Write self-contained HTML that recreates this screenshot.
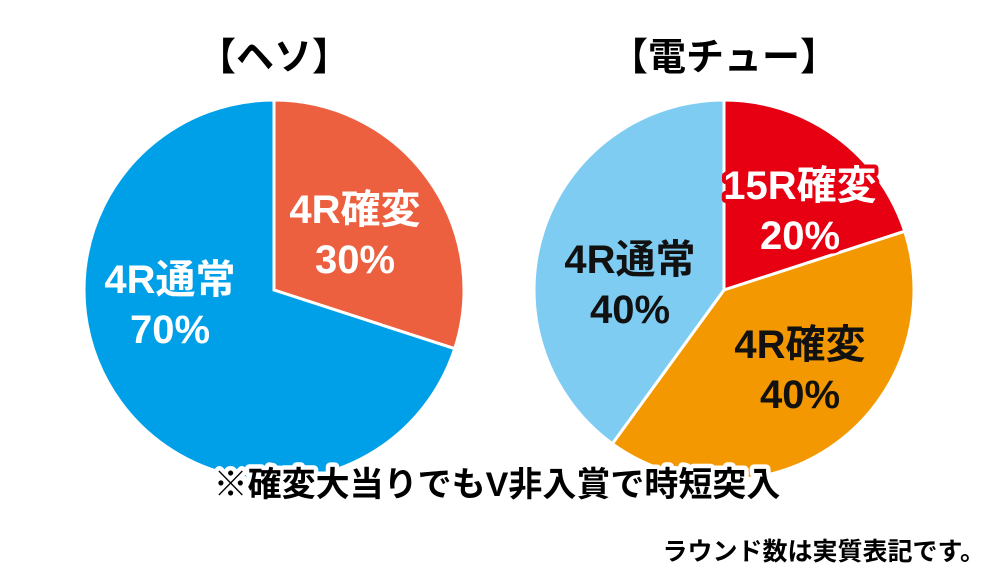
<!DOCTYPE html>
<html><head><meta charset="utf-8"><style>
body{margin:0;width:1000px;height:577px;background:#fff;overflow:hidden;font-family:"Liberation Sans","Noto Sans CJK JP",sans-serif}
svg{position:absolute;left:0;top:0}
text{font-family:"Liberation Sans","Noto Sans CJK JP",sans-serif;font-weight:bold}
</style></head><body>
<svg width="1000" height="577">
<g id="pies"></g>
<text x="274" y="70" font-size="38" text-anchor="middle">【ヘソ】</text>
<text x="724" y="70" font-size="38" text-anchor="middle">【電チュー】</text>
<g id="labels"></g>
<text x="497" y="496" font-size="34" text-anchor="middle" stroke="#fff" stroke-width="9" stroke-linejoin="round" paint-order="stroke">※確変大当りでもV非入賞で時短突入</text>
<text x="985" y="560" font-size="25" text-anchor="end">ラウンド数は実質表記です。</text>
</svg>
<script>
const leftCats=["4R確変","4R通常"];
const leftVals=[30,70];
const rightCats=["15R確変","4R確変","4R通常"];
const rightVals=[20,40,40];
const NS="http://www.w3.org/2000/svg";
const pies=document.getElementById('pies'),labels=document.getElementById('labels');
function pie(cx,cy,r,cats,vals,colors,textColors,strokes,labelPos,name){
  const tot=vals.reduce((a,b)=>a+b,0);let a0=0;
  vals.forEach((v,i)=>{
    const a1=a0+v/tot*2*Math.PI;
    const x0=cx+r*Math.sin(a0),y0=cy-r*Math.cos(a0),x1=cx+r*Math.sin(a1),y1=cy-r*Math.cos(a1);
    const p=document.createElementNS(NS,'path');
    p.setAttribute('d',`M${cx},${cy}L${x0},${y0}A${r},${r} 0 ${a1-a0>Math.PI?1:0} 1 ${x1},${y1}Z`);
    p.setAttribute('fill',colors[i]);p.setAttribute('stroke','#fff');p.setAttribute('stroke-width','3');
    
    
    pies.appendChild(p);
    const lx=cx+labelPos[i][0],ly=cy+labelPos[i][1];
    [[cats[i],-10],[v+'%',40]].forEach(([t,dy],k)=>{
      const tx=document.createElementNS(NS,'text');
      tx.setAttribute('x',lx);tx.setAttribute('y',ly+dy);tx.setAttribute('font-size','40');
      tx.setAttribute('text-anchor','middle');tx.setAttribute('fill',textColors[i]);
      if(strokes[i]){tx.setAttribute('stroke',strokes[i]);tx.setAttribute('stroke-width','8');tx.setAttribute('stroke-linejoin','round');tx.setAttribute('paint-order','stroke');}
      tx.textContent=t;
      
      
      labels.appendChild(tx);
    });
    a0=a1;
  });
}
pie(274,290,190,leftCats,leftVals,["#EC6040","#00A0E8"],["#fff","#fff"],[null,null],[[81,-57],[-104,13]],'left-pie');
pie(724,290,190,rightCats,rightVals,["#E60012","#F39800","#7FCCF2"],["#fff","#111","#111"],["#E60012",null,null],[[76,-81],[76,78],[-94,-7]],'right-pie');
</script>
</body></html>
